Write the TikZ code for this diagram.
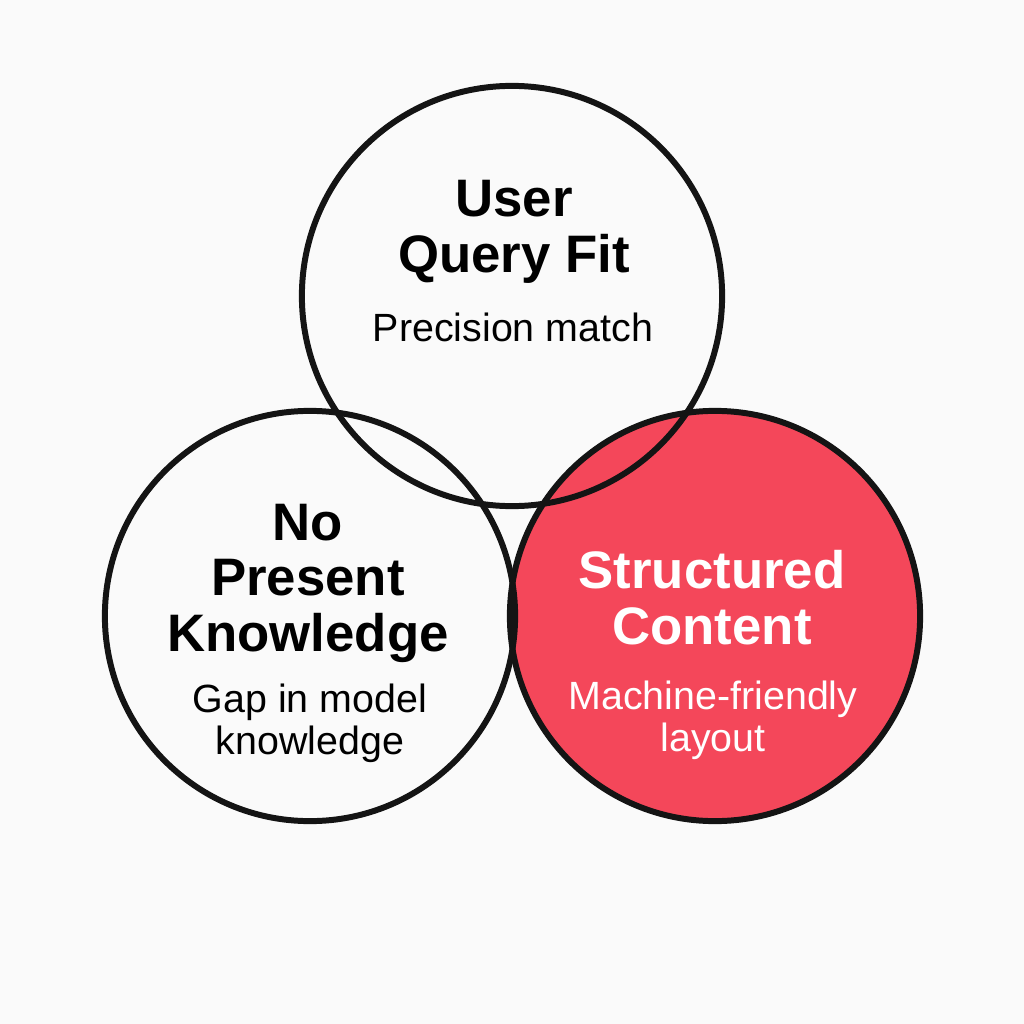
\documentclass[tikz,border=0pt]{standalone}
\usepackage{fontspec}
\setmainfont{Liberation Sans}
\definecolor{paper}{HTML}{FAFAFA}
\definecolor{coral}{HTML}{F4475A}
\definecolor{ink}{HTML}{141414}
\tikzset{
  ring/.style={circle, draw=ink, line width=1.7pt, inner sep=0pt, minimum size=#1},
  title/.style={anchor=north, inner sep=0pt, align=center,
    font=\bfseries\fontsize{15}{15.9}\selectfont},
  blurb/.style={anchor=north, inner sep=0pt, align=center,
    font=\fontsize{11.2}{11.95}\selectfont},
}
\begin{document}
\begin{tikzpicture}[x=0.01cm,y=-0.01cm]
\fill[paper] (0,0) rectangle (1024,1024);
% red one first, the other outlines go over it
\node[ring=4.1cm, fill=coral] (struct) at (715,616) {};
\node[ring=4.1cm] (gap) at (310,616) {};
\node[ring=4.2cm] (fit) at (512,296) {};

\node[title] (fit title) at (514,180) {User\\Query Fit};
\node[blurb] (fit text) at (513,312) {Precision match};

\node[title] (gap title) at (308,503) {No\\Present\\Knowledge};
\node[blurb] (gap text) at (310,683) {Gap in model\\knowledge};

\node[title, text=white] (struct title) at (712,550) {Structured\\Content};
\node[blurb, text=white] (struct text) at (713,680) {Machine-friendly\\layout};
\end{tikzpicture}
\end{document}
